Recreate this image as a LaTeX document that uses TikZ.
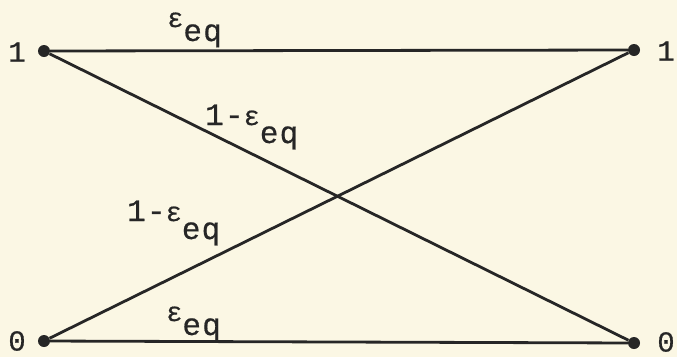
\documentclass[tikz,border=0pt]{standalone}
\usepackage{fontspec}
\setmonofont[LetterSpace=4,FakeBold=0.6]{Liberation Mono}
\newcommand{\eps}{{\fontsize{27}{27}\selectfont ε}}
\begin{document}
\begin{tikzpicture}[x=1pt,y=-1pt,
  dot/.style={circle,fill=black!85,inner sep=0pt,minimum size=12pt},
  lbl/.style={font=\ttfamily\fontsize{31}{31}\selectfont,text=black!85,inner sep=0pt},
  end/.style={font=\ttfamily\fontsize{29}{29}\selectfont,text=black!85,inner sep=0pt},
  wire/.style={line width=2.8pt,draw=black!85}]
\fill[fill={rgb,255:red,251;green,247;blue,228}] (0,0) rectangle (677,357);
\useasboundingbox (0,0) rectangle (677,357);
\node[dot] (a1) at (44,51) {};
\node[dot] (a0) at (44,341) {};
\node[dot] (b1) at (634,50) {};
\node[dot] (b0) at (634,343) {};
\node[end] (la1) at (17,52) {1};
\node[end] (la0) at (17,341) {0};
\node[end] (lb1) at (666,51) {1};
\node[end] (lb0) at (666,342) {0};
\draw[wire] (a1) -- (b1);
\draw[wire] (a0) -- (b0);
\draw[wire] (a1) -- (b0);
\draw[wire] (a0) -- (b1);
\node[lbl,anchor=base west] (t1) at (167,27) {\eps\raisebox{-0.45em}{eq}};
\node[lbl,anchor=base west] (t2) at (205,125) {1-\eps\raisebox{-0.58em}{eq}};
\node[lbl,anchor=base west] (t3) at (127,221) {1-\eps\raisebox{-0.58em}{eq}};
\node[lbl,anchor=base west] (t4) at (166,321) {\eps\raisebox{-0.45em}{eq}};
\end{tikzpicture}
\end{document}
